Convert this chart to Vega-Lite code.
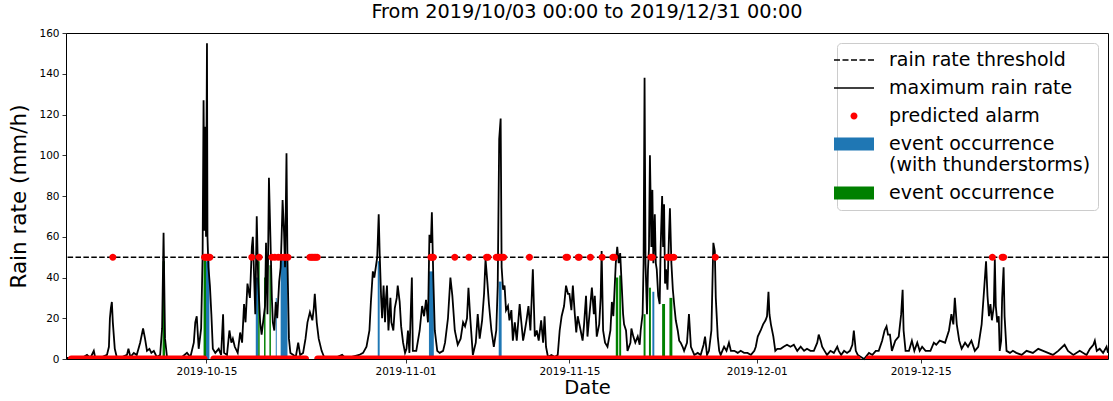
{
 "$schema": "https://vega.github.io/schema/vega-lite/v6.json",
 "width": 1042,
 "height": 326,
 "autosize": {"type": "none"},
 "padding": {"left": 66, "top": 33, "right": 5, "bottom": 42},
 "background": "white",
 "title": {"text": "From 2019/10/03 00:00 to 2019/12/31 00:00", "font": "DejaVu Sans", "fontSize": 19.3, "fontWeight": "normal", "color": "black", "offset": 6, "anchor": "middle"},
 "config": {
  "view": {"stroke": "black", "strokeWidth": 1},
  "axis": {"labelFont": "DejaVu Sans", "titleFont": "DejaVu Sans", "labelColor": "black", "titleColor": "black", "tickColor": "black", "domain": false, "grid": false, "labelFontSize": 10.5, "titleFontWeight": "normal", "tickSize": 4, "tickWidth": 0.8, "labelPadding": 3},
  "axisX": {"titlePadding": 2, "labelAngle": 0, "titleFontSize": 19.5},
  "axisY": {"titlePadding": 8, "titleFontSize": 21.5}
 },
 "datasets": {
  "rain": [
   {"t":"2019-10-03T00:00","v":0.5},{"t":"2019-10-03T04:00","v":0.5},{"t":"2019-10-03T12:00","v":0.3},{"t":"2019-10-03T19:00","v":1},
   {"t":"2019-10-04T03:00","v":0.5},{"t":"2019-10-04T09:00","v":0.5},{"t":"2019-10-04T19:00","v":2},
   {"t":"2019-10-05T02:00","v":0.5},{"t":"2019-10-05T09:00","v":4},{"t":"2019-10-05T12:00","v":0.5},
   {"t":"2019-10-06T02:00","v":1},{"t":"2019-10-06T12:00","v":2},{"t":"2019-10-06T16:00","v":6},{"t":"2019-10-06T18:00","v":20},{"t":"2019-10-06T20:00","v":25},{"t":"2019-10-06T22:00","v":28},
   {"t":"2019-10-07T00:00","v":18},{"t":"2019-10-07T04:00","v":5},{"t":"2019-10-07T08:00","v":1},{"t":"2019-10-07T19:00","v":1},
   {"t":"2019-10-08T05:00","v":2},{"t":"2019-10-08T08:00","v":5},{"t":"2019-10-08T12:00","v":1},{"t":"2019-10-08T19:00","v":3},
   {"t":"2019-10-09T01:00","v":2},{"t":"2019-10-09T08:00","v":8},{"t":"2019-10-09T14:00","v":15},{"t":"2019-10-09T18:00","v":10},{"t":"2019-10-09T22:00","v":4},
   {"t":"2019-10-10T03:00","v":5},{"t":"2019-10-10T07:00","v":3},{"t":"2019-10-10T12:00","v":4},{"t":"2019-10-10T18:00","v":1},
   {"t":"2019-10-11T01:00","v":2},{"t":"2019-10-11T05:00","v":15},{"t":"2019-10-11T08:00","v":62},{"t":"2019-10-11T11:00","v":10},{"t":"2019-10-11T15:00","v":1},
   {"t":"2019-10-12T08:00","v":0.5},{"t":"2019-10-12T22:00","v":1},
   {"t":"2019-10-13T08:00","v":3},{"t":"2019-10-13T15:00","v":1},{"t":"2019-10-13T22:00","v":8},
   {"t":"2019-10-14T01:00","v":18},{"t":"2019-10-14T04:00","v":21},{"t":"2019-10-14T08:00","v":5},{"t":"2019-10-14T13:00","v":15},{"t":"2019-10-14T16:00","v":50},{"t":"2019-10-14T18:00","v":127},{"t":"2019-10-14T20:00","v":63},{"t":"2019-10-14T21:00","v":114},{"t":"2019-10-14T23:00","v":60},
   {"t":"2019-10-15T01:00","v":155},{"t":"2019-10-15T02:00","v":60},{"t":"2019-10-15T04:00","v":45},{"t":"2019-10-15T07:00","v":36},{"t":"2019-10-15T10:00","v":22},{"t":"2019-10-15T13:00","v":5},{"t":"2019-10-15T18:00","v":3},
   {"t":"2019-10-16T01:00","v":5},{"t":"2019-10-16T06:00","v":2},{"t":"2019-10-16T10:00","v":22},{"t":"2019-10-16T12:00","v":3},{"t":"2019-10-16T18:00","v":2},{"t":"2019-10-16T23:00","v":14},
   {"t":"2019-10-17T03:00","v":8},{"t":"2019-10-17T06:00","v":10},{"t":"2019-10-17T10:00","v":6},{"t":"2019-10-17T16:00","v":3},{"t":"2019-10-17T21:00","v":13},
   {"t":"2019-10-18T01:00","v":8},{"t":"2019-10-18T05:00","v":27},{"t":"2019-10-18T08:00","v":18},{"t":"2019-10-18T12:00","v":37},{"t":"2019-10-18T17:00","v":30},{"t":"2019-10-18T21:00","v":55},{"t":"2019-10-18T23:00","v":60},
   {"t":"2019-10-19T01:00","v":45},{"t":"2019-10-19T04:00","v":22},{"t":"2019-10-19T07:00","v":70},{"t":"2019-10-19T10:00","v":38},{"t":"2019-10-19T14:00","v":18},{"t":"2019-10-19T17:00","v":12},{"t":"2019-10-19T20:00","v":18},
   {"t":"2019-10-20T00:00","v":26},{"t":"2019-10-20T02:00","v":57},{"t":"2019-10-20T05:00","v":22},{"t":"2019-10-20T08:00","v":89},{"t":"2019-10-20T11:00","v":60},{"t":"2019-10-20T14:00","v":30},{"t":"2019-10-20T16:00","v":18},{"t":"2019-10-20T19:00","v":14},{"t":"2019-10-20T22:00","v":28},
   {"t":"2019-10-21T01:00","v":20},{"t":"2019-10-21T05:00","v":38},{"t":"2019-10-21T08:00","v":45},{"t":"2019-10-21T10:00","v":60},{"t":"2019-10-21T12:00","v":78},{"t":"2019-10-21T15:00","v":62},{"t":"2019-10-21T17:00","v":45},{"t":"2019-10-21T20:00","v":101},{"t":"2019-10-21T22:00","v":48},
   {"t":"2019-10-22T01:00","v":10},{"t":"2019-10-22T04:00","v":3},{"t":"2019-10-22T10:00","v":2},{"t":"2019-10-22T15:00","v":1},{"t":"2019-10-22T20:00","v":8},
   {"t":"2019-10-23T00:00","v":2},{"t":"2019-10-23T06:00","v":3},{"t":"2019-10-23T11:00","v":10},{"t":"2019-10-23T15:00","v":18},{"t":"2019-10-23T20:00","v":23},
   {"t":"2019-10-24T01:00","v":19},{"t":"2019-10-24T04:00","v":25},{"t":"2019-10-24T06:00","v":32},{"t":"2019-10-24T10:00","v":18},{"t":"2019-10-24T14:00","v":10},{"t":"2019-10-24T20:00","v":4},
   {"t":"2019-10-25T01:00","v":1},{"t":"2019-10-25T13:00","v":1},{"t":"2019-10-25T23:00","v":0.5},
   {"t":"2019-10-26T14:00","v":2},{"t":"2019-10-26T20:00","v":0.5},
   {"t":"2019-10-27T10:00","v":1},
   {"t":"2019-10-28T01:00","v":2},{"t":"2019-10-28T09:00","v":3},{"t":"2019-10-28T16:00","v":6},{"t":"2019-10-28T22:00","v":14},
   {"t":"2019-10-29T01:00","v":28},{"t":"2019-10-29T05:00","v":43},{"t":"2019-10-29T08:00","v":40},{"t":"2019-10-29T11:00","v":45},{"t":"2019-10-29T14:00","v":50},{"t":"2019-10-29T17:00","v":71},{"t":"2019-10-29T19:00","v":52},{"t":"2019-10-29T22:00","v":30},
   {"t":"2019-10-30T00:00","v":20},{"t":"2019-10-30T03:00","v":36},{"t":"2019-10-30T06:00","v":18},{"t":"2019-10-30T08:00","v":30},{"t":"2019-10-30T10:00","v":36},{"t":"2019-10-30T13:00","v":14},{"t":"2019-10-30T17:00","v":30},{"t":"2019-10-30T19:00","v":18},{"t":"2019-10-30T23:00","v":14},
   {"t":"2019-10-31T02:00","v":25},{"t":"2019-10-31T06:00","v":30},{"t":"2019-10-31T08:00","v":36},{"t":"2019-10-31T12:00","v":28},{"t":"2019-10-31T15:00","v":16},{"t":"2019-10-31T19:00","v":8},{"t":"2019-10-31T23:00","v":3},
   {"t":"2019-11-01T02:00","v":5},{"t":"2019-11-01T05:00","v":14},{"t":"2019-11-01T08:00","v":3},{"t":"2019-11-01T13:00","v":40},{"t":"2019-11-01T15:00","v":4},{"t":"2019-11-01T22:00","v":4},
   {"t":"2019-11-02T05:00","v":14},{"t":"2019-11-02T10:00","v":26},{"t":"2019-11-02T14:00","v":21},{"t":"2019-11-02T18:00","v":29},{"t":"2019-11-02T22:00","v":18},
   {"t":"2019-11-03T01:00","v":61},{"t":"2019-11-03T04:00","v":57},{"t":"2019-11-03T06:00","v":72},{"t":"2019-11-03T09:00","v":39},{"t":"2019-11-03T12:00","v":14},{"t":"2019-11-03T17:00","v":4},{"t":"2019-11-03T22:00","v":3},
   {"t":"2019-11-04T05:00","v":4},{"t":"2019-11-04T09:00","v":8},{"t":"2019-11-04T15:00","v":20},{"t":"2019-11-04T20:00","v":40},
   {"t":"2019-11-05T00:00","v":31},{"t":"2019-11-05T05:00","v":14},{"t":"2019-11-05T11:00","v":7},{"t":"2019-11-05T17:00","v":10},{"t":"2019-11-05T22:00","v":18},
   {"t":"2019-11-06T02:00","v":16},{"t":"2019-11-06T06:00","v":20},{"t":"2019-11-06T09:00","v":35},{"t":"2019-11-06T13:00","v":19},{"t":"2019-11-06T18:00","v":2},
   {"t":"2019-11-07T00:00","v":8},{"t":"2019-11-07T04:00","v":22},{"t":"2019-11-07T08:00","v":10},{"t":"2019-11-07T13:00","v":19},{"t":"2019-11-07T17:00","v":32},{"t":"2019-11-07T20:00","v":49},
   {"t":"2019-11-08T00:00","v":37},{"t":"2019-11-08T03:00","v":27},{"t":"2019-11-08T08:00","v":14},{"t":"2019-11-08T13:00","v":6},{"t":"2019-11-08T18:00","v":14},{"t":"2019-11-08T21:00","v":36},
   {"t":"2019-11-09T00:00","v":108},{"t":"2019-11-09T03:00","v":118},{"t":"2019-11-09T05:00","v":45},{"t":"2019-11-09T08:00","v":34},{"t":"2019-11-09T11:00","v":36},{"t":"2019-11-09T14:00","v":24},{"t":"2019-11-09T18:00","v":26},{"t":"2019-11-09T21:00","v":19},
   {"t":"2019-11-10T01:00","v":24},{"t":"2019-11-10T04:00","v":9},{"t":"2019-11-10T08:00","v":18},{"t":"2019-11-10T12:00","v":9},{"t":"2019-11-10T18:00","v":27},{"t":"2019-11-10T21:00","v":19},
   {"t":"2019-11-11T01:00","v":9},{"t":"2019-11-11T04:00","v":13},{"t":"2019-11-11T08:00","v":19},{"t":"2019-11-11T12:00","v":26},{"t":"2019-11-11T16:00","v":14},{"t":"2019-11-11T21:00","v":44},
   {"t":"2019-11-12T01:00","v":11},{"t":"2019-11-12T05:00","v":14},{"t":"2019-11-12T09:00","v":9},{"t":"2019-11-12T14:00","v":19},{"t":"2019-11-12T18:00","v":8},{"t":"2019-11-12T21:00","v":21},
   {"t":"2019-11-13T00:00","v":6},{"t":"2019-11-13T04:00","v":1},{"t":"2019-11-13T11:00","v":2},{"t":"2019-11-13T18:00","v":1},
   {"t":"2019-11-14T00:00","v":2},{"t":"2019-11-14T04:00","v":14},{"t":"2019-11-14T08:00","v":21},{"t":"2019-11-14T13:00","v":26},{"t":"2019-11-14T17:00","v":36},{"t":"2019-11-14T21:00","v":32},
   {"t":"2019-11-15T00:00","v":32},{"t":"2019-11-15T04:00","v":24},{"t":"2019-11-15T07:00","v":36},{"t":"2019-11-15T11:00","v":22},{"t":"2019-11-15T14:00","v":13},{"t":"2019-11-15T17:00","v":21},{"t":"2019-11-15T23:00","v":14},
   {"t":"2019-11-16T03:00","v":9},{"t":"2019-11-16T06:00","v":17},{"t":"2019-11-16T10:00","v":31},{"t":"2019-11-16T13:00","v":11},{"t":"2019-11-16T19:00","v":27},{"t":"2019-11-16T22:00","v":35},
   {"t":"2019-11-17T02:00","v":22},{"t":"2019-11-17T04:00","v":31},{"t":"2019-11-17T08:00","v":11},{"t":"2019-11-17T13:00","v":17},{"t":"2019-11-17T16:00","v":30},{"t":"2019-11-17T18:00","v":53},{"t":"2019-11-17T21:00","v":14},
   {"t":"2019-11-18T01:00","v":8},{"t":"2019-11-18T06:00","v":6},{"t":"2019-11-18T12:00","v":14},{"t":"2019-11-18T15:00","v":28},{"t":"2019-11-18T18:00","v":21},{"t":"2019-11-18T23:00","v":47},
   {"t":"2019-11-19T02:00","v":55},{"t":"2019-11-19T05:00","v":47},{"t":"2019-11-19T08:00","v":52},{"t":"2019-11-19T11:00","v":37},{"t":"2019-11-19T14:00","v":22},{"t":"2019-11-19T16:00","v":17},{"t":"2019-11-19T20:00","v":14},{"t":"2019-11-19T23:00","v":4},
   {"t":"2019-11-20T05:00","v":8},{"t":"2019-11-20T07:00","v":15},{"t":"2019-11-20T11:00","v":11},{"t":"2019-11-20T15:00","v":8},{"t":"2019-11-20T20:00","v":11},
   {"t":"2019-11-21T00:00","v":7},{"t":"2019-11-21T02:00","v":14},{"t":"2019-11-21T06:00","v":22},{"t":"2019-11-21T08:00","v":47},{"t":"2019-11-21T10:00","v":138},{"t":"2019-11-21T12:00","v":47},{"t":"2019-11-21T15:00","v":22},{"t":"2019-11-21T17:00","v":44},{"t":"2019-11-21T19:00","v":54},{"t":"2019-11-21T21:00","v":100},
   {"t":"2019-11-22T00:00","v":55},{"t":"2019-11-22T02:00","v":83},{"t":"2019-11-22T04:00","v":47},{"t":"2019-11-22T07:00","v":71},{"t":"2019-11-22T09:00","v":47},{"t":"2019-11-22T11:00","v":44},{"t":"2019-11-22T14:00","v":31},{"t":"2019-11-22T17:00","v":27},{"t":"2019-11-22T19:00","v":55},{"t":"2019-11-22T22:00","v":80},
   {"t":"2019-11-23T00:00","v":55},{"t":"2019-11-23T02:00","v":76},{"t":"2019-11-23T04:00","v":37},{"t":"2019-11-23T06:00","v":44},{"t":"2019-11-23T09:00","v":34},{"t":"2019-11-23T12:00","v":60},{"t":"2019-11-23T14:00","v":74},{"t":"2019-11-23T17:00","v":47},{"t":"2019-11-23T20:00","v":34},{"t":"2019-11-23T23:00","v":26},
   {"t":"2019-11-24T02:00","v":19},{"t":"2019-11-24T06:00","v":14},{"t":"2019-11-24T09:00","v":9},{"t":"2019-11-24T12:00","v":8},{"t":"2019-11-24T16:00","v":6},{"t":"2019-11-24T19:00","v":4},
   {"t":"2019-11-25T01:00","v":8},{"t":"2019-11-25T05:00","v":22},{"t":"2019-11-25T09:00","v":6},{"t":"2019-11-25T16:00","v":2},{"t":"2019-11-25T23:00","v":3},
   {"t":"2019-11-26T05:00","v":2},{"t":"2019-11-26T11:00","v":7},{"t":"2019-11-26T14:00","v":11},{"t":"2019-11-26T18:00","v":2},{"t":"2019-11-26T22:00","v":4},
   {"t":"2019-11-27T03:00","v":14},{"t":"2019-11-27T07:00","v":57},{"t":"2019-11-27T10:00","v":53},{"t":"2019-11-27T12:00","v":30},{"t":"2019-11-27T16:00","v":11},{"t":"2019-11-27T19:00","v":4},{"t":"2019-11-27T22:00","v":2},
   {"t":"2019-11-28T05:00","v":6},{"t":"2019-11-28T10:00","v":4},{"t":"2019-11-28T15:00","v":8},{"t":"2019-11-28T19:00","v":4},
   {"t":"2019-11-29T02:00","v":4},{"t":"2019-11-29T09:00","v":3},{"t":"2019-11-29T15:00","v":4},{"t":"2019-11-29T22:00","v":3},
   {"t":"2019-11-30T05:00","v":3},{"t":"2019-11-30T12:00","v":2},{"t":"2019-11-30T19:00","v":4},{"t":"2019-11-30T22:00","v":6},
   {"t":"2019-12-01T02:00","v":11},{"t":"2019-12-01T08:00","v":14},{"t":"2019-12-01T13:00","v":17},{"t":"2019-12-01T18:00","v":19},{"t":"2019-12-01T21:00","v":21},
   {"t":"2019-12-02T00:00","v":33},{"t":"2019-12-02T02:00","v":22},{"t":"2019-12-02T05:00","v":17},{"t":"2019-12-02T10:00","v":11},{"t":"2019-12-02T14:00","v":4},{"t":"2019-12-02T18:00","v":5},
   {"t":"2019-12-03T01:00","v":5},{"t":"2019-12-03T07:00","v":6},{"t":"2019-12-03T14:00","v":7},{"t":"2019-12-03T21:00","v":6},
   {"t":"2019-12-04T04:00","v":7},{"t":"2019-12-04T11:00","v":4},{"t":"2019-12-04T18:00","v":6},
   {"t":"2019-12-05T01:00","v":4},{"t":"2019-12-05T07:00","v":5},{"t":"2019-12-05T14:00","v":4},{"t":"2019-12-05T21:00","v":4},
   {"t":"2019-12-06T04:00","v":8},{"t":"2019-12-06T07:00","v":12},{"t":"2019-12-06T11:00","v":9},{"t":"2019-12-06T14:00","v":6},{"t":"2019-12-06T19:00","v":4},
   {"t":"2019-12-07T00:00","v":2},{"t":"2019-12-07T07:00","v":4},{"t":"2019-12-07T14:00","v":3},{"t":"2019-12-07T21:00","v":6},
   {"t":"2019-12-08T00:00","v":4},{"t":"2019-12-08T05:00","v":2},{"t":"2019-12-08T11:00","v":4},{"t":"2019-12-08T17:00","v":3},{"t":"2019-12-08T23:00","v":4},
   {"t":"2019-12-09T04:00","v":7},{"t":"2019-12-09T07:00","v":14},{"t":"2019-12-09T11:00","v":4},{"t":"2019-12-09T15:00","v":2},
   {"t":"2019-12-10T04:00","v":0},{"t":"2019-12-10T14:00","v":3},{"t":"2019-12-10T21:00","v":2},
   {"t":"2019-12-11T04:00","v":4},{"t":"2019-12-11T10:00","v":4},{"t":"2019-12-11T17:00","v":9},{"t":"2019-12-11T22:00","v":14},
   {"t":"2019-12-12T02:00","v":16},{"t":"2019-12-12T05:00","v":12},{"t":"2019-12-12T09:00","v":12},{"t":"2019-12-12T13:00","v":4},{"t":"2019-12-12T20:00","v":9},
   {"t":"2019-12-13T03:00","v":11},{"t":"2019-12-13T08:00","v":22},{"t":"2019-12-13T11:00","v":34},{"t":"2019-12-13T13:00","v":14},{"t":"2019-12-13T17:00","v":4},
   {"t":"2019-12-14T00:00","v":4},{"t":"2019-12-14T06:00","v":9},{"t":"2019-12-14T11:00","v":4},{"t":"2019-12-14T17:00","v":8},{"t":"2019-12-14T22:00","v":4},
   {"t":"2019-12-15T03:00","v":6},{"t":"2019-12-15T10:00","v":4},{"t":"2019-12-15T20:00","v":4},
   {"t":"2019-12-16T03:00","v":8},{"t":"2019-12-16T08:00","v":7},{"t":"2019-12-16T15:00","v":9},
   {"t":"2019-12-17T02:00","v":8},{"t":"2019-12-17T10:00","v":14},{"t":"2019-12-17T15:00","v":22},{"t":"2019-12-17T19:00","v":17},{"t":"2019-12-17T22:00","v":30},
   {"t":"2019-12-18T02:00","v":17},{"t":"2019-12-18T07:00","v":9},{"t":"2019-12-18T12:00","v":5},{"t":"2019-12-18T19:00","v":8},
   {"t":"2019-12-19T01:00","v":6},{"t":"2019-12-19T08:00","v":9},{"t":"2019-12-19T15:00","v":4},{"t":"2019-12-19T22:00","v":6},
   {"t":"2019-12-20T05:00","v":17},{"t":"2019-12-20T10:00","v":34},{"t":"2019-12-20T14:00","v":48},{"t":"2019-12-20T17:00","v":31},{"t":"2019-12-20T20:00","v":21},{"t":"2019-12-20T23:00","v":27},
   {"t":"2019-12-21T02:00","v":19},{"t":"2019-12-21T06:00","v":26},{"t":"2019-12-21T08:00","v":49},{"t":"2019-12-21T10:00","v":26},{"t":"2019-12-21T13:00","v":18},{"t":"2019-12-21T16:00","v":21},{"t":"2019-12-21T18:00","v":4},{"t":"2019-12-21T21:00","v":9},{"t":"2019-12-21T23:00","v":30},
   {"t":"2019-12-22T02:00","v":45},{"t":"2019-12-22T04:00","v":21},{"t":"2019-12-22T08:00","v":4},{"t":"2019-12-22T15:00","v":3},{"t":"2019-12-22T21:00","v":4},
   {"t":"2019-12-23T04:00","v":3},{"t":"2019-12-23T15:00","v":2},
   {"t":"2019-12-24T01:00","v":4},{"t":"2019-12-24T14:00","v":3},
   {"t":"2019-12-25T01:00","v":5},{"t":"2019-12-25T11:00","v":4},{"t":"2019-12-25T21:00","v":3},
   {"t":"2019-12-26T07:00","v":2},{"t":"2019-12-26T18:00","v":4},
   {"t":"2019-12-27T07:00","v":7},{"t":"2019-12-27T14:00","v":4},
   {"t":"2019-12-28T01:00","v":2},{"t":"2019-12-28T14:00","v":4},
   {"t":"2019-12-29T04:00","v":2},{"t":"2019-12-29T11:00","v":5},{"t":"2019-12-29T18:00","v":7},{"t":"2019-12-29T21:00","v":9},
   {"t":"2019-12-30T01:00","v":4},{"t":"2019-12-30T07:00","v":5},{"t":"2019-12-30T14:00","v":3},{"t":"2019-12-30T21:00","v":6},
   {"t":"2019-12-31T00:00","v":3}
  ],
  "events": [
   {"kind":"thunder","start":"2019-10-14T23:00","end":"2019-10-15T06:00","v":48},
   {"kind":"thunder","start":"2019-10-19T05:00","end":"2019-10-19T10:00","v":40},
   {"kind":"thunder","start":"2019-10-20T22:00","end":"2019-10-21T00:00","v":30},
   {"kind":"thunder","start":"2019-10-21T08:00","end":"2019-10-21T22:00","v":50},
   {"kind":"thunder","start":"2019-10-29T15:00","end":"2019-10-29T19:00","v":48},
   {"kind":"thunder","start":"2019-11-03T00:00","end":"2019-11-03T10:00","v":43},
   {"kind":"thunder","start":"2019-11-08T23:00","end":"2019-11-09T05:00","v":38},
   {"kind":"thunder","start":"2019-11-22T02:00","end":"2019-11-22T06:00","v":33},
   {"kind":"plain","start":"2019-10-11T06:00","end":"2019-10-11T11:00","v":48},
   {"kind":"plain","start":"2019-10-14T18:00","end":"2019-10-14T23:00","v":50},
   {"kind":"plain","start":"2019-10-19T10:00","end":"2019-10-19T13:00","v":48},
   {"kind":"plain","start":"2019-10-19T22:00","end":"2019-10-20T01:00","v":40},
   {"kind":"plain","start":"2019-10-20T09:00","end":"2019-10-20T12:00","v":46},
   {"kind":"plain","start":"2019-11-18T23:00","end":"2019-11-19T04:00","v":40},
   {"kind":"plain","start":"2019-11-19T06:00","end":"2019-11-19T10:00","v":41},
   {"kind":"plain","start":"2019-11-21T08:00","end":"2019-11-21T12:00","v":22},
   {"kind":"plain","start":"2019-11-21T19:00","end":"2019-11-21T23:00","v":35},
   {"kind":"plain","start":"2019-11-22T22:00","end":"2019-11-23T04:00","v":27},
   {"kind":"plain","start":"2019-11-23T13:00","end":"2019-11-23T19:00","v":30}
  ],
  "alarms": [
   {"t":"2019-10-07T00:00","v":50},
   {"t":"2019-10-14T20:00","v":50},{"t":"2019-10-14T23:00","v":50},{"t":"2019-10-15T02:00","v":50},{"t":"2019-10-15T05:00","v":50},{"t":"2019-10-15T07:00","v":50},
   {"t":"2019-10-18T21:00","v":50},{"t":"2019-10-19T12:00","v":50},
   {"t":"2019-10-20T14:00","v":50},{"t":"2019-10-20T20:00","v":50},{"t":"2019-10-21T03:00","v":50},{"t":"2019-10-21T09:00","v":50},{"t":"2019-10-21T15:00","v":50},{"t":"2019-10-21T19:00","v":50},{"t":"2019-10-21T23:00","v":50},
   {"t":"2019-10-23T20:00","v":50},{"t":"2019-10-23T23:00","v":50},{"t":"2019-10-24T02:00","v":50},{"t":"2019-10-24T05:00","v":50},{"t":"2019-10-24T08:00","v":50},{"t":"2019-10-24T11:00","v":50},
   {"t":"2019-11-03T04:00","v":50},{"t":"2019-11-03T06:00","v":50},{"t":"2019-11-03T09:00","v":50},
   {"t":"2019-11-05T05:00","v":50},
   {"t":"2019-11-06T10:00","v":50},
   {"t":"2019-11-07T22:00","v":50},{"t":"2019-11-08T01:00","v":50},
   {"t":"2019-11-08T18:00","v":50},{"t":"2019-11-08T21:00","v":50},{"t":"2019-11-09T01:00","v":50},{"t":"2019-11-09T05:00","v":50},{"t":"2019-11-09T09:00","v":50},
   {"t":"2019-11-11T14:00","v":50},
   {"t":"2019-11-14T17:00","v":50},{"t":"2019-11-14T20:00","v":50},
   {"t":"2019-11-15T18:00","v":50},{"t":"2019-11-15T20:00","v":50},
   {"t":"2019-11-16T19:00","v":50},
   {"t":"2019-11-17T19:00","v":50},
   {"t":"2019-11-18T17:00","v":50},{"t":"2019-11-18T20:00","v":50},
   {"t":"2019-11-21T23:00","v":50},{"t":"2019-11-22T02:00","v":50},
   {"t":"2019-11-23T09:00","v":50},{"t":"2019-11-23T13:00","v":50},{"t":"2019-11-23T17:00","v":50},{"t":"2019-11-23T22:00","v":50},
   {"t":"2019-11-27T11:00","v":50},
   {"t":"2019-12-21T03:00","v":50},
   {"t":"2019-12-21T23:00","v":50},{"t":"2019-12-22T02:00","v":50}
  ],
  "band": [
   {"seg":1,"t":"2019-10-03T11:00","v":0},{"seg":1,"t":"2019-10-14T19:00","v":0},
   {"seg":2,"t":"2019-10-15T15:00","v":0},{"seg":2,"t":"2019-10-23T11:00","v":0},
   {"seg":3,"t":"2019-10-24T12:00","v":0},{"seg":3,"t":"2019-12-09T14:00","v":0},
   {"seg":4,"t":"2019-12-10T14:00","v":0},{"seg":4,"t":"2019-12-31T06:00","v":0}
  ]
 },
 "layer": [
  {
   "data": {"name": "events"},
   "mark": {"type": "rect"},
   "encoding": {
    "x": {"field": "start", "type": "temporal", "title": "Date",
          "scale": {"domain": [{"year": 2019, "month": 10, "date": 3}, {"year": 2019, "month": 12, "date": 31}]},
          "axis": {"format": "%Y-%m-%d", "values": [{"year": 2019, "month": 10, "date": 15}, {"year": 2019, "month": 11, "date": 1}, {"year": 2019, "month": 11, "date": 15}, {"year": 2019, "month": 12, "date": 1}, {"year": 2019, "month": 12, "date": 15}]}},
    "x2": {"field": "end"},
    "y": {"field": "v", "type": "quantitative", "title": "Rain rate (mm/h)",
          "scale": {"domain": [0, 160], "nice": false},
          "axis": {"values": [0, 20, 40, 60, 80, 100, 120, 140, 160]}},
    "y2": {"datum": 0},
    "color": {"condition": {"test": "datum.kind === 'thunder'", "value": "#1f77b4"}, "value": "#008000"}
   }
  },
  {
   "data": {"name": "rain"},
   "mark": {"type": "line", "color": "black", "strokeWidth": 1.8},
   "encoding": {
    "x": {"field": "t", "type": "temporal", "title": "Date"},
    "y": {"field": "v", "type": "quantitative", "title": "Rain rate (mm/h)"}
   }
  },
  {
   "data": {"values": [{"threshold": 50}]},
   "mark": {"type": "rule", "color": "black", "strokeWidth": 1.5, "strokeDash": [5.5, 2.4]},
   "encoding": {
    "y": {"field": "threshold", "type": "quantitative", "title": "Rain rate (mm/h)"}
   }
  },
  {
   "data": {"name": "band"},
   "mark": {"type": "line", "color": "#ff0000", "strokeWidth": 7, "strokeCap": "round", "clip": true},
   "encoding": {
    "x": {"field": "t", "type": "temporal", "title": "Date"},
    "y": {"field": "v", "type": "quantitative", "title": "Rain rate (mm/h)"},
    "detail": {"field": "seg", "type": "nominal"}
   }
  },
  {
   "data": {"name": "alarms"},
   "mark": {"type": "point", "filled": true, "size": 400, "opacity": 1, "strokeWidth": 0},
   "encoding": {
    "x": {"field": "t", "type": "temporal", "title": "Date"},
    "y": {"field": "v", "type": "quantitative", "title": "Rain rate (mm/h)"},
    "color": {
     "datum": "predicted alarm", "type": "nominal",
     "scale": {"domain": ["rain rate threshold", "maximum rain rate", "predicted alarm", "event occurrence (with thunderstorms)", "event occurrence"],
               "range": ["#000000", "#000000", "#ff0000", "#1f77b4", "#008000"]},
     "legend": {
      "title": null, "orient": "top-right", "offset": 10, "padding": 7,
      "fillColor": "rgba(255,255,255,0.8)", "strokeColor": "#cccccc", "cornerRadius": 4,
      "labelFont": "DejaVu Sans", "labelFontSize": 19, "labelColor": "black", "labelLimit": 400,
      "symbolSize": 400, "labelOffset": 25, "rowPadding": 8, "symbolStrokeWidth": 0, "symbolOpacity": 1,
      "labelExpr": "datum.label === 'event occurrence (with thunderstorms)' ? ['event occurrence', '(with thunderstorms)'] : datum.label"
     }
    },
    "shape": {
     "datum": "predicted alarm", "type": "nominal",
     "scale": {"domain": ["rain rate threshold", "maximum rain rate", "predicted alarm", "event occurrence (with thunderstorms)", "event occurrence"],
               "range": ["M-2,-0.075H-1.4V0.075H-2Z M-1.15,-0.075H-0.55V0.075H-1.15Z M-0.3,-0.075H0.3V0.075H-0.3Z M0.55,-0.075H1.15V0.075H0.55Z M1.4,-0.075H2V0.075H1.4Z",
                         "M-2,-0.075H2V0.075H-2Z",
                         "M-0.35,0A0.35,0.35,0,1,1,0.35,0A0.35,0.35,0,1,1,-0.35,0Z",
                         "M-2,-0.65H2V0.65H-2Z",
                         "M-2,-0.65H2V0.65H-2Z"]},
     "legend": {
      "title": null, "orient": "top-right", "offset": 10, "padding": 7,
      "fillColor": "rgba(255,255,255,0.8)", "strokeColor": "#cccccc", "cornerRadius": 4,
      "labelFont": "DejaVu Sans", "labelFontSize": 19, "labelColor": "black", "labelLimit": 400,
      "symbolSize": 400, "labelOffset": 25, "rowPadding": 8, "symbolStrokeWidth": 0, "symbolOpacity": 1,
      "labelExpr": "datum.label === 'event occurrence (with thunderstorms)' ? ['event occurrence', '(with thunderstorms)'] : datum.label"
     }
    }
   }
  }
 ]
}
